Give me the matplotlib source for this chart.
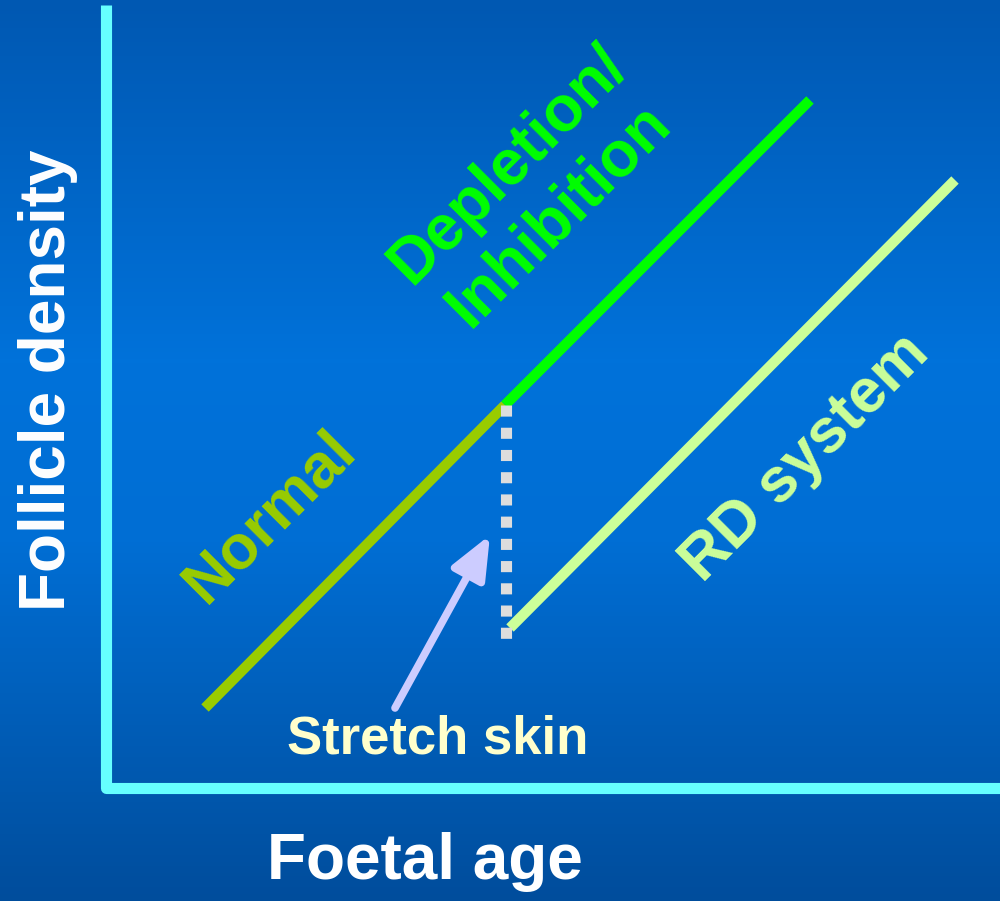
import matplotlib
matplotlib.use("Agg")
import matplotlib.pyplot as plt
import numpy as np
from matplotlib.colors import LinearSegmentedColormap

# schematic coordinates (pixel-like units, y grows downward)
normal_x = [205, 505]
normal_y = [708, 405]
depletion_x = [505, 810]
depletion_y = [405, 100]
rd_x = [510, 955]
rd_y = [628, 180]
stretch_x = [506, 506]
stretch_y = [405, 644]
arrow_start = (395, 708)
arrow_end = (490, 535)

fig = plt.figure(figsize=(10, 9.01), dpi=100)
ax = fig.add_axes([0, 0, 1, 1])
ax.set_xlim(0, 1000)
ax.set_ylim(901, 0)
ax.axis("off")

# background: vertical blue gradient, lighter in the middle
bg = LinearSegmentedColormap.from_list(
    "bg", [(0.0, "#0058B2"), (0.4, "#0072DA"), (0.6, "#006ED4"), (1.0, "#004D9C")]
)
grad = np.linspace(0, 1, 256).reshape(-1, 1)
ax.imshow(grad, cmap=bg, extent=[0, 1000, 901, 0], aspect="auto", zorder=0)

# axes
ax.plot([106, 106, 1000], [5, 788, 788], color="#66FFFF", lw=8,
        solid_joinstyle="round", solid_capstyle="butt", zorder=2)

# lines
ax.plot(normal_x, normal_y, color="#99CC00", lw=7.5, solid_capstyle="butt", zorder=3)
ax.plot(depletion_x, depletion_y, color="#00FF00", lw=7.5, solid_capstyle="butt", zorder=3)
ax.plot(rd_x, rd_y, color="#CCFF99", lw=7.5, solid_capstyle="butt", zorder=3)
ax.plot(stretch_x, stretch_y, color="#DDDDDD", lw=8, linestyle=(0, (1.0, 1.0)),
        dash_capstyle="butt", zorder=4)

ax.annotate("", xy=arrow_end, xytext=arrow_start,
            arrowprops=dict(arrowstyle="-|>,head_length=1.3,head_width=0.55",
                            mutation_scale=20, color="#CCCCFF", lw=5.5,
                            shrinkA=0, shrinkB=0),
            zorder=4)

font = "Liberation Sans"
ax.text(48, 380, "Follicle density", rotation=90, ha="center", va="center",
        color="white", fontsize=46, fontweight="bold", family=font)
ax.text(425, 862, "Foetal age", ha="center", va="center",
        color="white", fontsize=46, fontweight="bold", family=font)
ax.text(438, 739, "Stretch skin", ha="center", va="center",
        color="#FFFFCC", fontsize=38, fontweight="bold", family=font)
ax.text(270, 517, "Normal", rotation=45, ha="center", va="center",
        color="#99CC00", fontsize=45, fontweight="bold", family=font,
        rotation_mode="anchor")
ax.text(534, 190, "Depletion/\nInhibition", rotation=45, ha="center", va="center",
        color="#00FF00", fontsize=46, fontweight="bold", family=font,
        rotation_mode="anchor", linespacing=1.22)
ax.text(805, 458, "RD system", rotation=45, ha="center", va="center",
        color="#CCFF99", fontsize=45, fontweight="bold", family=font,
        rotation_mode="anchor")

fig.savefig("out.png", dpi=100)
